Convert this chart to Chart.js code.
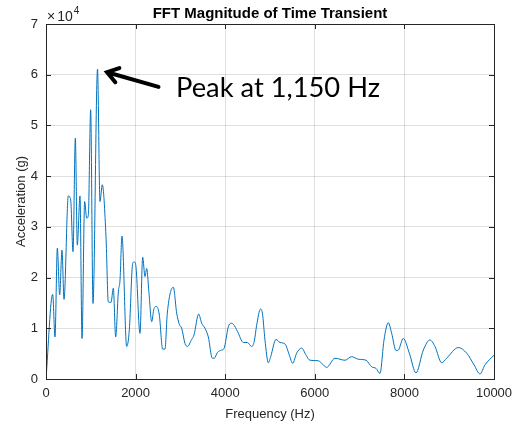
<!DOCTYPE html>
<html>
<head>
<meta charset="utf-8">
<script src="https://cdn.jsdelivr.net/npm/chart.js@4.4.1/dist/chart.umd.min.js"></script>
<style>
  html, body { margin: 0; padding: 0; background: #fff; }
  #wrap { width: 512px; height: 425px; }
</style>
</head>
<body>
<div id="wrap"><canvas id="fftChart" width="512" height="425"></canvas></div>
<script>
// frequency (Hz) and magnitude (g)
const freqs = [0, 149, 201, 253, 305, 357, 402, 498, 551, 603, 655, 699, 759, 804, 863, 908, 945, 997, 1049, 1150,
    1205, 1257, 1339, 1391, 1451, 1503, 1555, 1615, 1652, 1696, 1801, 1860, 1935, 1972, 2010, 2098, 2158, 2210, 2247,
    2299, 2359, 2411, 2470, 2530, 2604, 2656, 2708, 2842, 2917, 2976, 3028, 3103, 3154, 3252, 3304, 3408, 3475, 3549,
    3623, 3713, 3757, 3824, 3921, 3973, 4070, 4129, 4181, 4278, 4405, 4494, 4591, 4650, 4700, 4790, 4830, 4888, 4963,
    5015, 5134, 5223, 5335, 5432, 5506, 5595, 5707, 5804, 5893, 6079, 6153, 6265, 6451, 6674, 6823, 6972, 7143, 7270,
    7366, 7455, 7545, 7641, 7716, 7813, 7864, 7976, 8110, 8259, 8422, 8571, 8683, 8832, 8943, 9203, 9390, 9554, 9688,
    9799, 10000];
const accel = [0, 16700, 8300, 25800, 16600, 25400, 15700, 36100, 35300, 25100, 47500, 26400, 36100, 8000, 35000, 31700,
    32300, 53100, 14900, 61100, 35000, 38300, 28100, 15200, 15100, 17900, 8300, 17200, 19500, 28200, 6400, 9700, 22800,
    23100, 22000, 9000, 24000, 20200, 21800, 16900, 11300, 13900, 14300, 12600, 5900, 5900, 13000, 18100, 13000, 10800,
    10000, 7000, 6400, 7800, 8700, 12800, 11000, 10000, 8300, 4100, 4100, 5200, 5700, 6000, 10300, 11000, 10800, 9300,
    7200, 7200, 6400, 7500, 10500, 13800, 13000, 7700, 3200, 4400, 7800, 7200, 6900, 4700, 3100, 5100, 6100, 4700, 3700,
    3600, 3100, 2300, 4100, 3700, 4400, 3900, 3700, 2400, 2100, 1100, 7700, 11100, 9000, 5600, 5700, 8000, 5100, 1200,
    5700, 7700, 6400, 3200, 4100, 6200, 5100, 2800, 1000, 2800, 4700];

const xTicks = [0, 2000, 4000, 6000, 8000, 10000];
const yTicks = [0, 10000, 20000, 30000, 40000, 50000, 60000, 70000];

// annotation in data units: arrow tail, arrow tip, text anchor
const noteText = 'Peak at 1,150 Hz';
const arrowFrom = [2511, 57600];
const arrowTo = [1362, 60500];
const noteAt = [2902, 55600];

const axisColor = '#262626';
const gridColor = 'rgba(38,38,38,0.15)';

const matlabAxes = {
    id: 'matlabAxes',
    afterDraw(chart) {
        const ctx = chart.ctx;
        const a = chart.chartArea;
        const xs = chart.scales.x, ys = chart.scales.y;
        ctx.save();
        // box
        ctx.strokeStyle = axisColor;
        ctx.lineWidth = 1;
        ctx.strokeRect(Math.round(a.left) + 0.5, Math.round(a.top) + 0.5,
            Math.round(a.right - a.left), Math.round(a.bottom - a.top));
        // inward ticks
        ctx.beginPath();
        xTicks.forEach(v => {
            const px = Math.round(xs.getPixelForValue(v)) + 0.5;
            ctx.moveTo(px, a.bottom); ctx.lineTo(px, a.bottom - 5);
            ctx.moveTo(px, a.top); ctx.lineTo(px, a.top + 5);
        });
        yTicks.forEach(v => {
            const py = Math.round(ys.getPixelForValue(v)) + 0.5;
            ctx.moveTo(a.left, py); ctx.lineTo(a.left + 5, py);
            ctx.moveTo(a.right, py); ctx.lineTo(a.right - 5, py);
        });
        ctx.stroke();

        // x10^4 exponent
        ctx.fillStyle = axisColor;
        ctx.textBaseline = 'alphabetic';
        ctx.textAlign = 'left';
        ctx.font = '14px "Liberation Sans", Arial, sans-serif';
        ctx.fillText('\u00d7', a.left + 1, a.top - 3);
        const wx = ctx.measureText('\u00d7').width;
        ctx.fillText('10', a.left + wx + 3, a.top - 3);
        const w = wx + 3 + ctx.measureText('10').width;
        ctx.font = '10px "Liberation Sans", Arial, sans-serif';
        ctx.fillText('4', a.left + w + 1, a.top - 10);

        // arrow
        const tx = xs.getPixelForValue(arrowFrom[0]), ty = ys.getPixelForValue(arrowFrom[1]);
        const hx = xs.getPixelForValue(arrowTo[0]), hy = ys.getPixelForValue(arrowTo[1]);
        const ang = Math.atan2(ty - hy, tx - hx);
        ctx.strokeStyle = '#000';
        ctx.lineWidth = 4;
        ctx.lineCap = 'round';
        ctx.beginPath();
        ctx.moveTo(tx, ty); ctx.lineTo(hx + 2 * Math.cos(ang), hy + 2 * Math.sin(ang));
        ctx.moveTo(hx + 13 * Math.cos(ang - 0.6), hy + 13 * Math.sin(ang - 0.6));
        ctx.lineTo(hx, hy);
        ctx.lineTo(hx + 13 * Math.cos(ang + 0.6), hy + 13 * Math.sin(ang + 0.6));
        ctx.stroke();

        // note text, sized to the width seen in the picture
        let size = 28;
        ctx.font = size + 'px Lato, "Open Sans", sans-serif';
        size = size * 204 / ctx.measureText(noteText).width;
        ctx.font = size.toFixed(1) + 'px Lato, "Open Sans", sans-serif';
        ctx.fillStyle = '#000';
        ctx.fillText(noteText, xs.getPixelForValue(noteAt[0]), ys.getPixelForValue(noteAt[1]));
        ctx.restore();
    }
};

const tickFont = { family: '"Liberation Sans", Arial, sans-serif', size: 13 };

new Chart(document.getElementById('fftChart'), {
    type: 'line',
    data: {
        datasets: [{
            data: freqs.map((f, i) => ({ x: f, y: accel[i] })),
            borderColor: '#0072BD',
            borderWidth: 1,
            pointRadius: 0,
            cubicInterpolationMode: 'monotone',
            fill: false
        }]
    },
    options: {
        responsive: false,
        animation: false,
        layout: { padding: { right: 0 } },
        plugins: {
            legend: { display: false },
            tooltip: { enabled: false },
            title: {
                display: true,
                fullSize: false,
                text: 'FFT Magnitude of Time Transient',
                color: '#000',
                font: { family: '"Liberation Sans", Arial, sans-serif', size: 15, weight: 'bold' },
                padding: { top: 5, bottom: 1 }
            }
        },
        scales: {
            x: {
                type: 'linear',
                min: 0,
                max: 10000,
                afterFit(scale) { scale.height = 46; scale.paddingRight = 18; },
                afterBuildTicks(scale) { scale.ticks = xTicks.map(v => ({ value: v })); },
                grid: { color: gridColor, drawTicks: false },
                border: { display: false },
                ticks: { color: axisColor, font: tickFont, padding: 7, maxRotation: 0, autoSkip: false,
                    callback: v => String(v) },
                title: {
                    display: true,
                    text: 'Frequency (Hz)',
                    color: axisColor,
                    font: tickFont,
                    padding: { top: 0, bottom: 3 }
                }
            },
            y: {
                min: 0,
                max: 70000,
                afterFit(scale) { scale.width = 46; },
                afterBuildTicks(scale) { scale.ticks = yTicks.map(v => ({ value: v })); },
                grid: { color: gridColor, drawTicks: false },
                border: { display: false },
                ticks: { color: axisColor, font: tickFont, padding: 8, callback: v => String(v / 10000) },
                title: {
                    display: true,
                    text: 'Acceleration (g)',
                    color: axisColor,
                    font: tickFont,
                    padding: { top: 14, bottom: 0 }
                }
            }
        }
    },
    plugins: [matlabAxes]
});
</script>
</body>
</html>
